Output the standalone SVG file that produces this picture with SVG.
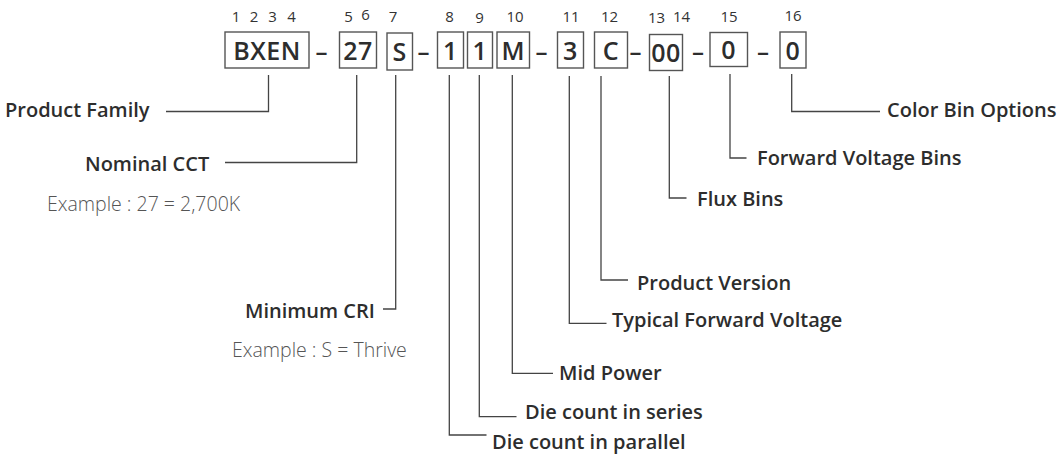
<svg xmlns="http://www.w3.org/2000/svg" width="1062" height="455" viewBox="0 0 1062 455">
<style>
.bg{fill:#ffffff}
.box{fill:none;stroke:#555;stroke-width:1.4}
.code{font-family:"Open Sans","Liberation Sans",sans-serif;font-size:25px;font-weight:600;fill:#2d2d2d;text-anchor:middle;letter-spacing:0.5px}
.dash{font-family:"Open Sans","Liberation Sans",sans-serif;font-size:24px;font-weight:600;fill:#2d2d2d;text-anchor:middle}
.num{font-family:"Open Sans","Liberation Sans",sans-serif;font-size:15px;font-weight:400;fill:#333;text-anchor:middle}
.lbl{font-family:"Open Sans","Liberation Sans",sans-serif;font-size:20px;font-weight:600;fill:#2d2d2d}
.ex{font-family:"Open Sans","Liberation Sans",sans-serif;font-size:19.5px;font-weight:300;fill:#555}
.conn path{fill:none;stroke:#444;stroke-width:1.3}
</style>
<rect class="bg" x="0" y="0" width="1062" height="455"/>
<g id="code">
  <g id="pos1-4"><text class="num" x="236" y="22">1</text><text class="num" x="254" y="22">2</text><text class="num" x="272.5" y="22">3</text><text class="num" x="291.5" y="22">4</text><rect class="box" x="225" y="32" width="84" height="36"/><text class="code" x="267" y="60">BXEN</text></g>
  <text class="dash" x="321.5" y="60">–</text>
  <g id="pos5-6"><text class="num" x="348.5" y="22">5</text><text class="num" x="365.5" y="20">6</text><rect class="box" x="339.5" y="32" width="37" height="36"/><text class="code" x="358" y="60">27</text></g>
  <g id="pos7"><text class="num" x="393" y="22">7</text><rect class="box" x="387" y="33" width="25.5" height="37"/><text class="code" x="399.7" y="61">S</text></g>
  <text class="dash" x="423.5" y="60">–</text>
  <g id="pos8"><text class="num" x="449.5" y="22">8</text><rect class="box" x="437.5" y="32" width="26" height="36"/><text class="code" x="450.5" y="60">1</text></g>
  <g id="pos9"><text class="num" x="479.5" y="23">9</text><rect class="box" x="467.5" y="32" width="25" height="36"/><text class="code" x="480" y="60">1</text></g>
  <g id="pos10"><text class="num" x="515" y="22">10</text><rect class="box" x="497" y="32" width="32.5" height="36"/><text class="code" x="513.2" y="60">M</text></g>
  <text class="dash" x="541.5" y="60">–</text>
  <g id="pos11"><text class="num" x="571" y="22">11</text><rect class="box" x="557.5" y="32" width="26" height="36"/><text class="code" x="570.5" y="60">3</text></g>
  <g id="pos12"><text class="num" x="609.5" y="22">12</text><rect class="box" x="594.5" y="32" width="33" height="36"/><text class="code" x="611" y="60">C</text></g>
  <text class="dash" x="635.5" y="60">–</text>
  <g id="pos13-14"><text class="num" x="656.5" y="23">13</text><text class="num" x="681.5" y="22">14</text><rect class="box" x="649.5" y="34.5" width="33" height="36"/><text class="code" x="666" y="62">00</text></g>
  <text class="dash" x="698" y="60">–</text>
  <g id="pos15"><text class="num" x="729" y="22">15</text><rect class="box" x="710" y="32.5" width="37.5" height="34"/><text class="code" x="728.7" y="59">0</text></g>
  <text class="dash" x="763" y="60">–</text>
  <g id="pos16"><text class="num" x="793" y="21">16</text><rect class="box" x="780" y="32" width="26" height="36"/><text class="code" x="793" y="60">0</text></g>
</g>
<g id="connectors" class="conn">
  <path d="M268.5 75 V111.5 H166"/>
  <path d="M356.7 75 V162.5 H225"/>
  <path d="M395.7 75 V309 H383"/>
  <path d="M449.3 75 V435 H486.5"/>
  <path d="M479.3 75 V416.7 H516.5"/>
  <path d="M512.3 75 V373.3 H553"/>
  <path d="M569.3 76 V323.3 H606.5"/>
  <path d="M601 76 V280 H628"/>
  <path d="M669.3 76 V198 H686.5"/>
  <path d="M730 74 V158 H746.5"/>
  <path d="M791.7 74 V111.5 H880"/>
</g>
<g id="lbl-family"><text class="lbl" x="5" y="117">Product Family</text></g>
<g id="lbl-cct"><text class="lbl" x="85" y="171">Nominal CCT</text><text class="ex" x="47" y="211">Example : 27 = 2,700K</text></g>
<g id="lbl-cri"><text class="lbl" x="245" y="318">Minimum CRI</text><text class="ex" x="232" y="357">Example : S = Thrive</text></g>
<g id="lbl-parallel"><text class="lbl" x="492" y="448.5">Die count in parallel</text></g>
<g id="lbl-series"><text class="lbl" x="525" y="418.5">Die count in series</text></g>
<g id="lbl-mid"><text class="lbl" x="559" y="380">Mid Power</text></g>
<g id="lbl-tfv"><text class="lbl" x="612" y="327">Typical Forward Voltage</text></g>
<g id="lbl-version"><text class="lbl" x="637" y="290">Product Version</text></g>
<g id="lbl-flux"><text class="lbl" x="697" y="206">Flux Bins</text></g>
<g id="lbl-fv"><text class="lbl" x="757" y="165">Forward Voltage Bins</text></g>
<g id="lbl-color"><text class="lbl" x="887" y="117">Color Bin Options</text></g>
</svg>
